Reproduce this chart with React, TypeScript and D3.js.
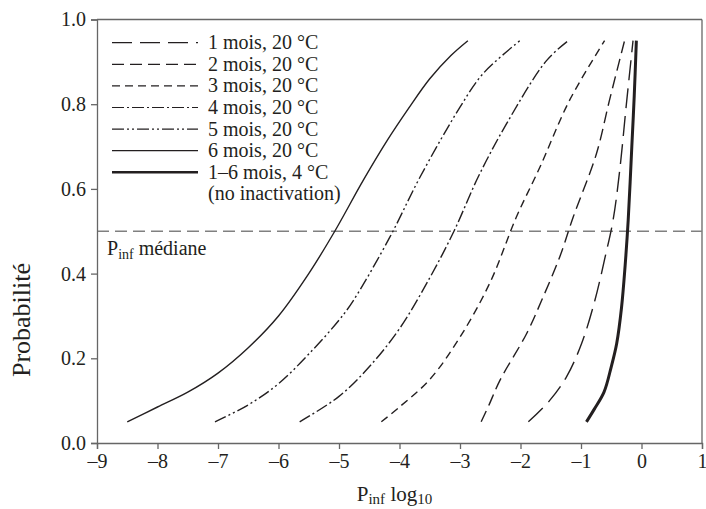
import * as d3 from 'd3';
import React, { useRef, useEffect } from 'react';

// log10 Pinf (x) against probability (y)
const probs1m = [0.05, 0.1, 0.156, 0.235, 0.337, 0.44, 0.526, 0.644, 0.8, 0.95];
const xs1m = [-1.87, -1.52, -1.24, -0.99, -0.77, -0.6, -0.47, -0.36, -0.25, -0.14];

const probs2m = [0.05, 0.09, 0.148, 0.258, 0.337, 0.44, 0.533, 0.683, 0.809, 0.95];
const xs2m = [-2.65, -2.52, -2.34, -1.9, -1.65, -1.35, -1.13, -0.745, -0.53, -0.28];

const probs3m = [0.05, 0.085, 0.15, 0.25, 0.38, 0.533, 0.651, 0.809, 0.95];
const xs3m = [-4.3, -4.0, -3.5, -3.0, -2.5, -2.07, -1.68, -1.19, -0.61];

const probs4m = [0.05, 0.11, 0.18, 0.27, 0.39, 0.5, 0.628, 0.754, 0.903, 0.95];
const xs4m = [-5.65, -5.0, -4.5, -4.0, -3.5, -3.1, -2.7, -2.23, -1.57, -1.21];

const probs5m = [0.05, 0.09, 0.14, 0.21, 0.29, 0.337, 0.486, 0.628, 0.793, 0.872, 0.95];
const xs5m = [-7.05, -6.5, -6.0, -5.5, -5.0, -4.76, -4.16, -3.66, -3.0, -2.62, -2.01];

const probs6m = [0.05, 0.085, 0.12, 0.165, 0.225, 0.3, 0.4, 0.5, 0.62, 0.715, 0.79, 0.86, 0.915, 0.95];
const xs6m = [-8.5, -8.0, -7.5, -7.0, -6.5, -6.0, -5.5, -5.07, -4.6, -4.2, -3.85, -3.5, -3.15, -2.87];

const probs4c = [0.05, 0.08, 0.12, 0.18, 0.235, 0.32, 0.42, 0.526, 0.7, 0.82, 0.95];
const xs4c = [-0.91, -0.78, -0.62, -0.5, -0.41, -0.33, -0.27, -0.22, -0.16, -0.12, -0.085];

const legendLabels = [
  '1 mois, 20 °C',
  '2 mois, 20 °C',
  '3 mois, 20 °C',
  '4 mois, 20 °C',
  '5 mois, 20 °C',
  '6 mois, 20 °C',
  '1–6 mois, 4 °C',
];
const median = 0.5;
const xTicks = [-9, -8, -7, -6, -5, -4, -3, -2, -1, 0, 1];
const yTicks = [0, 0.2, 0.4, 0.6, 0.8, 1.0];

const ink = '#231f20';
const font = "'Liberation Serif', 'DejaVu Serif', serif";

const series = [
  { xs: xs1m, ps: probs1m, dash: '20,8', w: 1.4 },
  { xs: xs2m, ps: probs2m, dash: '12,6', w: 1.4 },
  { xs: xs3m, ps: probs3m, dash: '8,5', w: 1.4 },
  { xs: xs4m, ps: probs4m, dash: '12,3,2,3', w: 1.4 },
  { xs: xs5m, ps: probs5m, dash: '12,3,2,3,2,3', w: 1.4 },
  { xs: xs6m, ps: probs6m, dash: null, w: 1.4 },
  { xs: xs4c, ps: probs4c, dash: null, w: 3 },
];

export default function App() {
  const W = 706;
  const H = 509;
  const left = 97;
  const right = 702;
  const top = 19.5;
  const bottom = 443;
  const xAxisRef = useRef(null);
  const yAxisRef = useRef(null);

  const x = d3.scaleLinear().domain([-9, 1]).range([left, right]);
  const y = d3.scaleLinear().domain([0, 1]).range([bottom, top]);

  const line = d3
    .line<[number, number]>()
    .x((d) => x(d[0]))
    .y((d) => y(d[1]))
    .curve(d3.curveCatmullRom.alpha(0.5));

  useEffect(() => {
    const xAxis = d3
      .axisBottom(x)
      .tickValues(xTicks)
      .tickSizeOuter(0)
      .tickSize(6)
      .tickPadding(5)
      .tickFormat((d) => (+d < 0 ? '–' + Math.abs(+d) : String(d)));
    const yAxis = d3
      .axisLeft(y)
      .tickValues(yTicks)
      .tickSizeOuter(0)
      .tickSize(6)
      .tickPadding(5)
      .tickFormat(d3.format('.1f'));

    const gx = d3.select(xAxisRef.current).call(xAxis);
    const gy = d3.select(yAxisRef.current).call(yAxis);
    [gx, gy].forEach((g) => {
      g.attr('font-family', null).attr('font-size', null);
      g.selectAll('.domain').attr('stroke', '#666').attr('stroke-width', 1.3);
      g.selectAll('.tick line').attr('stroke', '#666').attr('stroke-width', 1.3);
      g.selectAll('.tick text').attr('fill', ink);
    });
  }, []);

  const lx0 = 112;
  const lx1 = 198;
  const ly0 = 42.7;
  const lstep = 21.6;

  return (
    <svg
      width={W}
      height={H}
      style={{ position: 'absolute', left: 0, top: 0, background: '#fff', fontFamily: font, fontSize: 20 }}
    >
      <rect x={0} y={0} width={W} height={H} fill="#fff" />
      {/* frame */}
      <line x1={left} x2={right} y1={top} y2={top} stroke="#666" strokeWidth={1.3} />
      <line x1={right} x2={right} y1={top} y2={bottom} stroke="#666" strokeWidth={1.3} />

      {/* median line */}
      <line
        x1={left}
        x2={right}
        y1={y(median)}
        y2={y(median)}
        stroke="#808080"
        strokeWidth={1.5}
        strokeDasharray="12,6"
      />
      <text x={107} y={255} fill={ink}>
        P<tspan fontSize={14} dy={4}>inf</tspan>
        <tspan dy={-4}> médiane</tspan>
      </text>

      {series.map((s, i) => (
        <path
          key={i}
          d={line(s.xs.map((v, j) => [v, s.ps[j]]) as [number, number][]) || ''}
          fill="none"
          stroke={ink}
          strokeWidth={s.w}
          strokeDasharray={s.dash || undefined}
        />
      ))}

      {/* legend */}
      {legendLabels.map((lab, i) => (
        <g key={lab}>
          <line
            x1={lx0}
            x2={lx1}
            y1={ly0 + i * lstep}
            y2={ly0 + i * lstep}
            stroke={ink}
            strokeWidth={series[i].w === 3 ? 2.6 : 1.2}
            strokeDasharray={series[i].dash || undefined}
          />
          <text x={208} y={ly0 + i * lstep + 6.5} fill={ink}>
            {lab}
          </text>
        </g>
      ))}
      <text x={208} y={ly0 + 7 * lstep + 6.5} fill={ink}>
        (no inactivation)
      </text>

      <g ref={xAxisRef} transform={`translate(0,${bottom})`} />
      <g ref={yAxisRef} transform={`translate(${left},0)`} />

      {/* axis titles */}
      <text x={(left + right) / 2 - 5} y={501} textAnchor="middle" fontSize={21} fill={ink}>
        P<tspan fontSize={15} dy={3}>inf</tspan>
        <tspan dy={-3}> log</tspan>
        <tspan fontSize={15} dy={3}>10</tspan>
      </text>
      <text
        transform={`translate(30,${320}) rotate(-90)`}
        textAnchor="middle"
        fontSize={26}
        fill={ink}
      >
        Probabilité
      </text>
    </svg>
  );
}
